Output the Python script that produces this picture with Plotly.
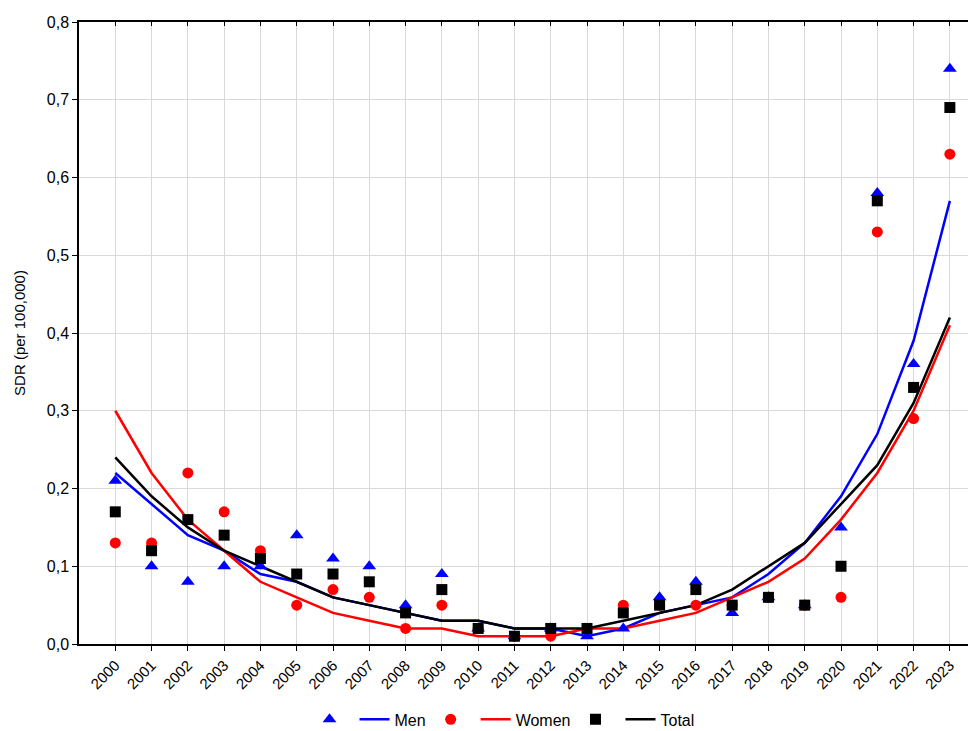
import plotly.graph_objects as go

years = list(range(2000, 2024))

men_obs = [0.21, 0.10, 0.08, 0.10, 0.10, 0.14, 0.11, 0.10, 0.05, 0.09, 0.02, 0.01,
           0.02, 0.01, 0.02, 0.06, 0.08, 0.04, 0.06, 0.05, 0.15, 0.58, 0.36, 0.74]
women_obs = [0.13, 0.13, 0.22, 0.17, 0.12, 0.05, 0.07, 0.06, 0.02, 0.05, 0.02, 0.01,
             0.01, 0.02, 0.05, 0.05, 0.05, 0.05, 0.06, 0.05, 0.06, 0.53, 0.29, 0.63]
total_obs = [0.17, 0.12, 0.16, 0.14, 0.11, 0.09, 0.09, 0.08, 0.04, 0.07, 0.02, 0.01,
             0.02, 0.02, 0.04, 0.05, 0.07, 0.05, 0.06, 0.05, 0.10, 0.57, 0.33, 0.69]

men_fit = [0.22, 0.18, 0.14, 0.12, 0.09, 0.08, 0.06, 0.05, 0.04, 0.03, 0.03, 0.02,
           0.02, 0.01, 0.02, 0.04, 0.05, 0.06, 0.09, 0.13, 0.19, 0.27, 0.39, 0.57]
women_fit = [0.30, 0.22, 0.16, 0.12, 0.08, 0.06, 0.04, 0.03, 0.02, 0.02, 0.01, 0.01,
             0.01, 0.02, 0.02, 0.03, 0.04, 0.06, 0.08, 0.11, 0.16, 0.22, 0.30, 0.41]
total_fit = [0.24, 0.19, 0.15, 0.12, 0.10, 0.08, 0.06, 0.05, 0.04, 0.03, 0.03, 0.02,
             0.02, 0.02, 0.03, 0.04, 0.05, 0.07, 0.10, 0.13, 0.18, 0.23, 0.31, 0.42]

y_ticks = [0.0, 0.1, 0.2, 0.3, 0.4, 0.5, 0.6, 0.7, 0.8]

BLUE = "#0000ff"
RED = "#ff0000"
BLACK = "#000000"

fig = go.Figure()

series = [
    ("Men", men_obs, men_fit, BLUE, "triangle-up", 12),
    ("Women", women_obs, women_fit, RED, "circle", 11),
    ("Total", total_obs, total_fit, BLACK, "square", 11),
]

line_traces = []
mark_traces = []
for i, (name, obs, fit, col, sym, sz) in enumerate(series):
    mark_traces.append(go.Scatter(
        x=years, y=obs, mode="markers", name="",
        marker=dict(symbol=sym, size=sz, color=col, line=dict(width=0)),
        showlegend=True, legendrank=1000 + 2 * i,
    ))
    line_traces.append(go.Scatter(
        x=years, y=fit, mode="lines", name=name,
        line=dict(color=col, width=2.5),
        showlegend=True, legendrank=1001 + 2 * i,
    ))

for t in line_traces + mark_traces:
    fig.add_trace(t)

x_range = [1999, 2023.72]

# page body has an 8px margin, so the figure is sized to fill the rest of the window
fig.update_layout(
    width=968, height=723,
    margin=dict(l=71, r=0, t=14, b=87),
    paper_bgcolor="white", plot_bgcolor="white",
    separators=", ",
    font=dict(family="Liberation Sans, Arial, sans-serif", size=16, color="black"),
    showlegend=True,
    legend=dict(
        orientation="h", xref="paper", x=0.257, xanchor="left",
        yref="container", y=0.016, yanchor="middle",
        font=dict(size=16), itemwidth=30, tracegroupgap=0,
        traceorder="normal", bgcolor="rgba(0,0,0,0)",
    ),
    xaxis=dict(
        range=x_range, tickmode="array", tickvals=years, ticktext=[str(y) for y in years],
        tickangle=-45, showgrid=True, gridcolor="#d9d9d9", gridwidth=1,
        showline=True, linecolor="black", linewidth=1.5,
        ticks="outside", ticklen=5, tickcolor="black", zeroline=False,
        tickfont=dict(size=15), automargin=False,
    ),
    xaxis2=dict(
        range=x_range, overlaying="x", side="top", tickmode="array", tickvals=years,
        showticklabels=False, showgrid=False, showline=True, linecolor="black",
        linewidth=1.5, ticks="inside", ticklen=4, tickcolor="black", zeroline=False,
        automargin=False,
    ),
    yaxis=dict(
        range=[0, 0.8], tickmode="array", tickvals=y_ticks, tickformat=".1f",
        showgrid=True, gridcolor="#d9d9d9", gridwidth=1,
        showline=True, linecolor="black", linewidth=1.5,
        ticks="outside", ticklen=5, tickcolor="black", zeroline=False,
        title=dict(text="SDR (per 100,000)", font=dict(size=15), standoff=18),
        tickfont=dict(size=16), automargin=False,
    ),
)

# invisible trace to activate the top axis
fig.add_trace(go.Scatter(x=[years[0]], y=[0], xaxis="x2", mode="markers",
                         marker=dict(opacity=0), showlegend=False, hoverinfo="skip"))

fig.write_html("out.html")
